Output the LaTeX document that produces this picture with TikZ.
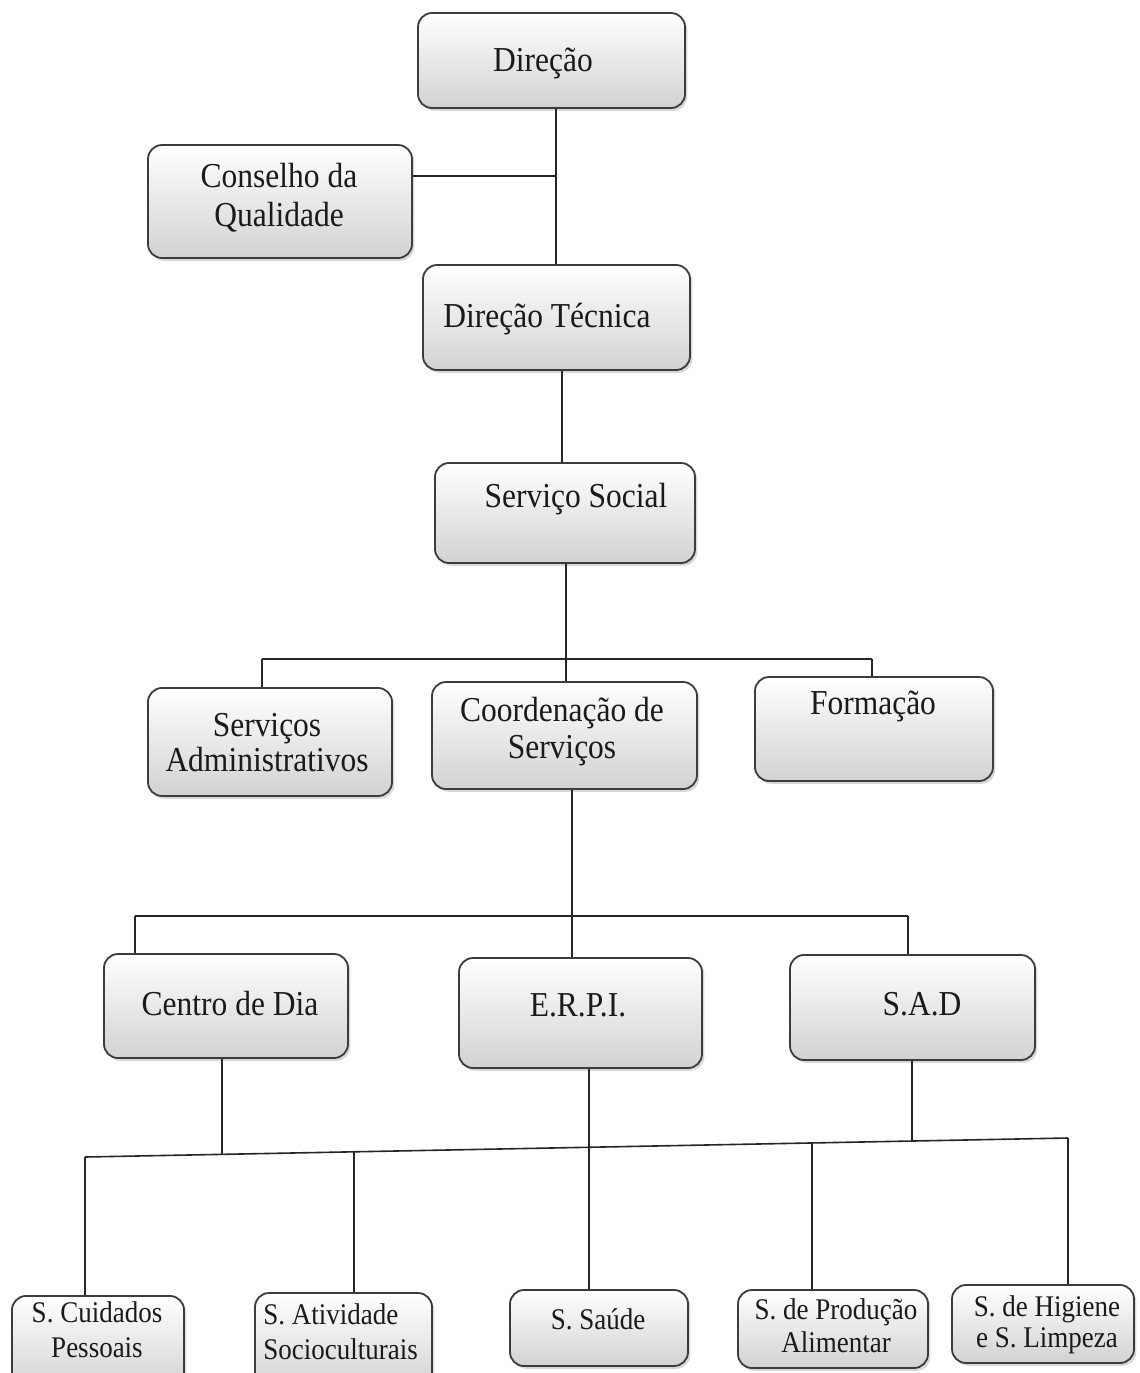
\documentclass[tikz,border=0pt]{standalone}
\usepackage{fontspec}
\usetikzlibrary{shadows,calc}
\newfontfamily\mainf{Liberation Serif}[FakeStretch=0.9]
\newcommand\mfont[1]{\mainf\fontsize{17.5pt}{#1pt}\selectfont}
\newcommand\sfont[1]{\mainf\fontsize{15pt}{#1pt}\selectfont}
\definecolor{boxline}{HTML}{3C3C3C}
\definecolor{boxbot}{HTML}{D2D2D2}
\definecolor{ink}{HTML}{1A1A1A}
\definecolor{wire}{HTML}{262626}
\tikzset{
  obox/.style={rectangle, rounded corners=7pt, draw=boxline, line width=0.9pt,
    top color=white, bottom color=boxbot, inner sep=0pt,
    drop shadow={shadow xshift=1.2pt, shadow yshift=-1.4pt, opacity=0.3}},
  txt/.style={text=ink, align=center, inner sep=0pt, font=\mfont{18}},
  stxt/.style={text=ink, align=center, inner sep=0pt, font=\sfont{17.5}},
  conn/.style={draw=wire, line width=0.8pt}
}
\newcommand\obox[5]{\node[obox, minimum width={(#4-#2)*0.5pt}, minimum height={(#5-#3)*0.5pt}] (#1) at ({(#2+#4)/2},{(#3+#5)/2}) {};}
\begin{document}
\begin{tikzpicture}[x=0.5pt,y=-0.5pt]
\useasboundingbox (0,0) rectangle (1140,1373);
\clip (0,0) rectangle (1140,1373);
\fill[white] (0,0) rectangle (1140,1373);

% boxes
\obox{dir}{418}{13}{685}{108}
\obox{cq}{148}{145}{412}{258}
\obox{dt}{423}{265}{690}{370}
\obox{ss}{435}{463}{695}{563}
\obox{sa}{148}{688}{392}{796}
\obox{cs}{432}{682}{697}{789}
\obox{fo}{755}{677}{993}{781}
\obox{cd}{104}{954}{348}{1058}
\obox{er}{459}{958}{702}{1068}
\obox{sad}{790}{955}{1035}{1060}
\obox{sc}{12}{1296}{184}{1390}
\obox{sat}{255}{1293}{432}{1390}
\obox{sau}{510}{1290}{688}{1366}
\obox{sp}{738}{1290}{928}{1368}
\obox{sh}{952}{1285}{1134}{1363}

% texts
\node[txt] (tdir) at (543,63) {Direção};
\node[txt, font=\mfont{19.5}] (tcq) at (279,198) {Conselho da\\Qualidade};
\node[txt] (tdt) at (547,319) {Direção Técnica};
\node[txt] (tss) at (576,499) {Serviço Social};
\node[txt, font=\mfont{17.5}] (tsa) at (267,743) {Serviços\\Administrativos};
\node[txt, font=\mfont{18.5}] (tcs) at (562,732) {Coordenação de\\Serviços};
\node[txt] (tfo) at (873,706) {Formação};
\node[txt] (tcd) at (230,1004) {Centro de Dia};
\node[txt] (ter) at (578,1005) {E.R.P.I.};
\node[txt] (tsad) at (922,1004) {S.A.D};
\node[stxt] (tsc) at (97,1330) {S. Cuidados\\Pessoais};
\node[stxt, align=left, anchor=west] (tsat) at (263,1332) {S. Atividade\\Socioculturais};
\node[stxt] (tsau) at (598,1319) {S. Saúde};
\node[stxt, font=\sfont{16.5}] (tsp) at (836,1326) {S. de Produção\\Alimentar};
\node[stxt, font=\sfont{15.5}] (tsh) at (1047,1325) {S. de Higiene\\e S. Limpeza};

% junction coordinates
\coordinate (j1) at (556,176);
\coordinate (j2) at (562,400);
\coordinate (b1L) at (262,659);
\coordinate (b1R) at (872,659);
\coordinate (b1M) at (566,659);
\coordinate (b2L) at (135,916);
\coordinate (b2R) at (908,916);
\coordinate (b2M) at (572,916);
\coordinate (b3L) at (85,1157);
\coordinate (b3R) at (1068,1138);
\coordinate (pcd) at (222,1154.4);
\coordinate (psat) at (354,1151.8);
\coordinate (per) at (589,1147.3);
\coordinate (psp) at (812,1143);
\coordinate (psad) at (912,1141);

% connectors
\draw[conn] (j1 |- dir.south) -- (j1 |- dt.north);
\draw[conn] (cq.east |- j1) -- (j1);
\draw[conn] (j2 |- dt.south) -- (j2 |- ss.north);
\draw[conn] (b1M |- ss.south) -- (b1M |- cs.north);
\draw[conn] (b1L) -- (b1R);
\draw[conn] (b1L) -- (b1L |- sa.north);
\draw[conn] (b1R) -- (b1R |- fo.north);
\draw[conn] (b2M |- cs.south) -- (b2M |- er.north);
\draw[conn] (b2L) -- (b2R);
\draw[conn] (b2L) -- (b2L |- cd.north);
\draw[conn] (b2R) -- (b2R |- sad.north);
\draw[conn] (pcd |- cd.south) -- (pcd);
\draw[conn] (psad |- sad.south) -- (psad);
\draw[conn] (per |- er.south) -- (per |- sau.north);
\draw[conn] (b3L) -- (b3R);
\draw[conn] (b3L) -- (b3L |- sc.north);
\draw[conn] (psat) -- (psat |- sat.north);
\draw[conn] (psp) -- (psp |- sp.north);
\draw[conn] (b3R) -- (b3R |- sh.north);
\end{tikzpicture}
\end{document}
